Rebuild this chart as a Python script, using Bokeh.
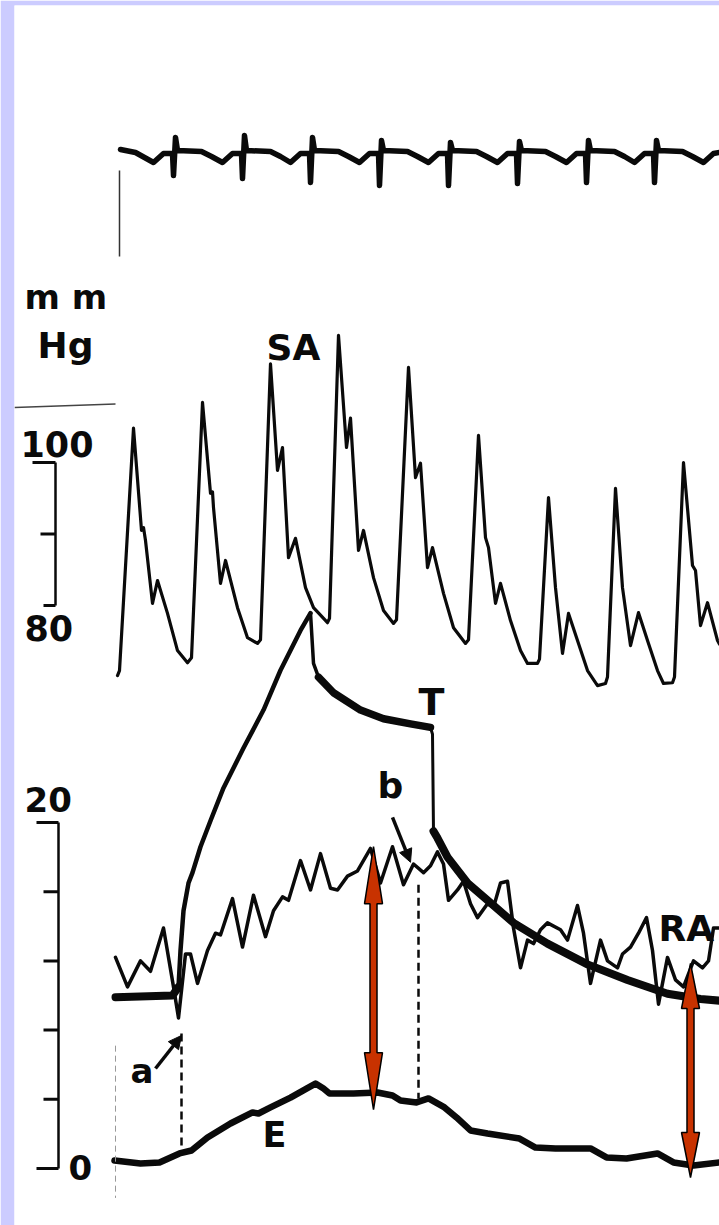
from bokeh.plotting import figure
from bokeh.models import Range1d, Arrow, NormalHead, Label
from bokeh.embed import file_html
from bokeh.resources import INLINE
from bokeh.core.properties import value

# ---------------- data (time in chart ticks, pressures in mmHg) ----------------
ecg_t = [120, 135,
         153, 163, 172, 173, 175, 177, 201, 211,
         222, 232, 241, 242, 244, 246, 270, 280,
         290, 300, 309, 310, 312, 314, 338, 348,
         359, 369, 378, 379, 381, 383, 407, 417,
         428, 438, 447, 448, 450, 452, 476, 486,
         497, 507, 516, 517, 519, 521, 545, 555,
         566, 576, 585, 586, 588, 590, 614, 624,
         634, 644, 653, 654, 656, 658, 682, 692,
         703, 713, 719]
ecg_mv = [0.075, 0.0,
          -0.25, -0.025, -0.025, -0.575, 0.375, 0.05, 0.025, -0.1,
          -0.25, -0.025, -0.025, -0.65, 0.425, 0.05, 0.025, -0.1,
          -0.25, -0.025, -0.025, -0.75, 0.375, 0.05, 0.025, -0.1,
          -0.25, -0.025, -0.025, -0.825, 0.3, 0.05, 0.025, -0.1,
          -0.25, -0.025, -0.025, -0.825, 0.25, 0.05, 0.025, -0.1,
          -0.25, -0.025, -0.025, -0.775, 0.275, 0.05, 0.025, -0.1,
          -0.25, -0.025, -0.025, -0.75, 0.3, 0.05, 0.025, -0.1,
          -0.25, -0.025, -0.025, -0.75, 0.3, 0.05, 0.025, -0.1,
          -0.25, -0.025, 0.0]

sa_t = [117, 119, 133, 141, 143, 145, 152, 157, 167, 177, 187, 191,
        202, 210, 212, 213, 220, 225, 237, 247, 257, 260,
        270, 277, 282, 288, 295, 305, 313, 327, 329,
        338, 346, 350, 358, 363, 373, 383, 393, 396,
        408, 415, 420, 427, 432, 443, 453, 465, 468,
        478, 485, 488, 495, 500, 510, 520, 527, 537, 539,
        548, 555, 562, 568, 577, 587, 597, 605, 607,
        615, 622, 630, 638, 647, 657, 663, 672, 674,
        683, 692, 695, 700, 707, 717, 719]
sa_mmhg = [70.2, 70.9, 104.8, 90.5, 90.9, 89.1, 80.3, 83.5, 78.9, 73.7, 72.0, 72.7,
           108.4, 95.7, 95.9, 93.7, 83.1, 86.3, 79.7, 75.5, 74.7, 75.2,
           113.8, 98.9, 102.1, 86.7, 89.4, 82.5, 79.7, 77.6, 78.2,
           117.8, 102.1, 106.2, 87.7, 90.5, 83.9, 79.3, 77.5, 78.0,
           113.3, 97.9, 99.9, 85.3, 88.1, 81.7, 76.9, 74.7, 75.2,
           103.8, 89.5, 88.1, 80.3, 83.1, 77.9, 73.7, 71.9, 71.9, 72.5,
           95.1, 82.5, 73.3, 78.9, 75.1, 70.9, 68.8, 69.1, 70.0,
           96.4, 82.5, 74.4, 79.0, 75.1, 70.9, 69.1, 69.2, 70.0,
           100.0, 85.6, 84.9, 77.2, 80.4, 75.1, 74.6]

ra_t = [115, 127, 140, 150, 163, 173, 178, 185, 190, 197, 207, 215, 220,
        232, 242, 253, 265, 273, 282, 288, 300, 310, 320, 330, 337, 347, 357,
        370, 380, 392, 403, 413, 423, 430, 437, 443, 448, 457, 463, 470, 477,
        487, 493, 500, 507, 513, 520, 527, 533, 540, 547, 560, 567, 577, 583,
        590, 600, 607, 617, 622, 630, 638, 646, 652, 658, 667, 675, 683, 693,
        702, 708, 713, 719]
ra_mmhg = [12.2, 10.5, 12.0, 11.4, 13.9, 10.5, 8.7, 12.4, 12.4, 10.7, 12.6, 13.6, 13.5,
           15.6, 12.8, 15.8, 13.4, 14.9, 15.7, 15.5, 17.8, 16.1, 18.2, 16.2, 16.1, 16.9, 17.2,
           18.5, 16.5, 18.6, 16.4, 17.6, 17.1, 17.5, 18.3, 17.6, 15.5, 16.1, 16.6, 15.3, 14.5,
           15.3, 15.1, 16.5, 16.6, 13.9, 11.6, 13.2, 13.0, 13.8, 14.2, 13.8, 13.2, 15.2, 13.6,
           10.7, 13.2, 12.0, 11.6, 12.4, 12.8, 13.6, 14.5, 12.6, 9.5, 12.2, 10.9, 10.5, 12.0,
           11.6, 12.0, 13.9, 13.9]

bal_t = [115, 172, 178, 180, 183, 188, 192, 200, 210, 223, 243, 263, 280, 300, 310,
         313, 318, 333, 360, 383, 410, 430, 432, 433,
         437, 447, 467, 487, 513, 547, 587, 627, 667, 700, 719]
bal_mmhg = [9.9, 10.0, 10.5, 12.6, 14.9, 16.5, 17.1, 18.6, 20.1, 22.0, 24.3, 26.5, 28.8, 31.1, 32.1,
            29.2, 28.4, 27.5, 26.5, 26.0, 25.7, 25.5, 25.1, 19.5,
            19.1, 18.0, 16.5, 15.5, 14.2, 13.0, 11.8, 10.9, 10.1, 9.8, 9.7]

e_t = [114, 140, 159, 179, 191, 207, 230, 252, 258, 270, 290, 306, 315, 323, 329,
       353, 377, 392, 400, 416, 428, 444, 456, 470, 487, 519, 535, 555, 590, 606,
       626, 657, 673, 693, 719]
e_mmhg = [0.46, 0.29, 0.35, 0.87, 1.04, 1.79, 2.60, 3.24, 3.18, 3.53, 4.10, 4.62, 4.91, 4.62, 4.34,
          4.34, 4.39, 4.22, 3.93, 3.82, 4.05, 3.53, 2.95, 2.20, 2.02, 1.73, 1.21, 1.16, 1.16, 0.64,
          0.58, 0.87, 0.35, 0.17, 0.35]

# scale bars
sa_scale_ticks = [100, 90, 80]
ra_scale_ticks = [20, 16, 12, 8, 4, 0]

# event markers (a, b) : time, RA level, E level
event_t = [181, 418]
event_top = [7.8, 16.4]
event_bot = [1.04, 4.05]

# transmural RA - E arrows
tm_t = [373, 690]
tm_top = [18.6, 11.85]
tm_bot = [3.4, -0.52]

# ---------------- figure ----------------
RA_RANGE = (-3.295, 67.225)
SA_RANGE = (-6.71, 163.92)
ECG_RANGE = (-26.825, 3.675)

p = figure(width=719, height=1225, x_range=Range1d(14, 719),
           y_range=Range1d(*RA_RANGE), x_axis_type=None, y_axis_type=None,
           output_backend="svg", toolbar_location=None,
           min_border_left=14, min_border_top=5, min_border_right=0, min_border_bottom=0)
p.extra_y_ranges = {"sa": Range1d(*SA_RANGE), "ecg": Range1d(*ECG_RANGE)}
p.grid.visible = False
p.outline_line_color = None
p.background_fill_color = "white"
p.border_fill_color = "#ccccff"

INK = "#0a0a0a"
kw = dict(line_color=INK, line_join="round", line_cap="round")

# ECG
p.line(ecg_t, ecg_mv, line_width=5.5, y_range_name="ecg", **kw)
# SA
p.line(sa_t, sa_mmhg, line_width=3.2, y_range_name="sa", **kw)
# balloon / T trace in segments of different pen thickness
segs = [(0, 2, 8), (2, 14, 4.5), (14, 16, 3.5), (16, 21, 7.5), (21, 23, 3), (23, len(bal_t) - 1, 8)]
for a, b, w in segs:
    p.line(bal_t[a:b + 1], bal_mmhg[a:b + 1], line_width=w, **kw)
# RA
p.line(ra_t, ra_mmhg, line_width=3.5, **kw)
# E
p.line(e_t, e_mmhg, line_width=6.5, **kw)

# dashed event lines
p.segment(x0=event_t, y0=event_top, x1=event_t, y1=event_bot,
          line_color=INK, line_width=2.5, line_dash="8 5")

# scale bars
sa_left = [32, 40, 43]
p.segment(x0=sa_left, y0=sa_scale_ticks, x1=[55] * 3, y1=sa_scale_ticks,
          line_color=INK, line_width=3, y_range_name="sa")
p.segment(x0=[55], y0=[sa_scale_ticks[0]], x1=[55], y1=[sa_scale_ticks[-1]],
          line_color=INK, line_width=2.5, y_range_name="sa")
ra_left = [36, 43, 43, 43, 43, 36]
p.segment(x0=ra_left, y0=ra_scale_ticks, x1=[58] * 6, y1=ra_scale_ticks,
          line_color=INK, line_width=3)
p.segment(x0=[58], y0=[ra_scale_ticks[0]], x1=[58], y1=[ra_scale_ticks[-1]],
          line_color=INK, line_width=2.5)

# faint paper marks
p.segment(x0=[14], y0=[107.7], x1=[115], y1=[108.2], line_color="#444444",
          line_width=1.5, y_range_name="sa")
p.segment(x0=[119], y0=[-0.45], x1=[119], y1=[-2.6], line_color="#333333",
          line_width=1.5, y_range_name="ecg")
p.segment(x0=[115], y0=[7.1], x1=[115], y1=[-1.7], line_color="#999999",
          line_width=1, line_dash="6 4")

# red double arrows (RA - E)
px_per_mmhg = 1220 / (RA_RANGE[1] - RA_RANGE[0])
head_len_px = [57, 45]
hw, sw = 9, 3.5
xs, ys = [], []
for x, top, bot, hlp in zip(tm_t, tm_top, tm_bot, head_len_px):
    hl = hlp / px_per_mmhg
    xs.append([x, x + hw, x + sw, x + sw, x + hw, x, x - hw, x - sw, x - sw, x - hw])
    ys.append([top, top - hl, top - hl, bot + hl, bot + hl, bot, bot + hl, bot + hl, top - hl, top - hl])
p.patches(xs, ys, fill_color="#c83200", line_color="black", line_width=1.5)

# small black pointer arrows a and b
for (x0, y0, x1, y1) in [(155, 5.78, 181, 7.69), (392, 20.3, 410, 17.7)]:
    p.add_layout(Arrow(end=NormalHead(size=13, fill_color=INK, line_color=INK, line_width=1),
                       x_start=x0, y_start=y0, x_end=x1, y_end=y1,
                       line_color=INK, line_width=3.5))

# labels
FONT = "DejaVu Sans"
sa_labels = [("m m", 24, 121.4, 34), ("Hg", 37, 114.5, 36), ("100", 20, 100.8, 35),
             ("80", 24, 75.1, 35), ("SA", 266, 114.3, 36)]
ra_labels = [("T", 418, 26.2, 38), ("b", 377, 21.4, 36), ("a", 130, 4.9, 34),
             ("E", 262, 1.16, 35), ("RA", 658, 13.1, 36), ("20", 24, 20.6, 34),
             ("0", 68, -0.69, 34)]
for txt, x, y, fs in sa_labels:
    p.add_layout(Label(x=x, y=y, text=txt, y_range_name="sa", text_font=FONT,
                       text_font_style="bold", text_font_size=f"{fs}px", y_offset=13,
                       text_color=INK, text_baseline="alphabetic", text_align="left"))
for txt, x, y, fs in ra_labels:
    p.add_layout(Label(x=x, y=y, text=txt, text_font=FONT,
                       text_font_style="bold", text_font_size=f"{fs}px", y_offset=13,
                       text_color=INK, text_baseline="alphabetic", text_align="left"))

open("out.html", "w").write(file_html(p, INLINE))
